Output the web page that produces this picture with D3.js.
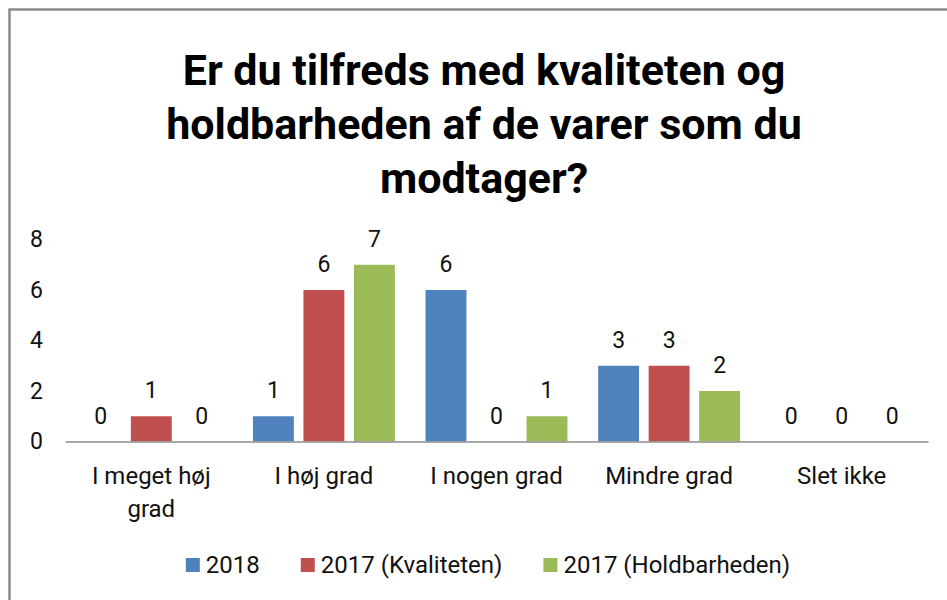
<!DOCTYPE html>
<html>
<head>
<meta charset="utf-8">
<script src="https://cdn.jsdelivr.net/npm/d3@7"></script>
<style>
  body { margin: 0; background: #fff; }
  text { font-family: Roboto, "Open Sans", sans-serif; fill: #111; }
</style>
</head>
<body>
<svg id="chart" width="947" height="600"></svg>
<script>
const categories = ['I meget høj grad', 'I høj grad', 'I nogen grad', 'Mindre grad', 'Slet ikke'];
const seriesNames = ['2018', '2017 (Kvaliteten)', '2017 (Holdbarheden)'];
const values2018 = [0, 1, 6, 3, 0];
const valuesKvalitet = [1, 6, 0, 3, 0];
const valuesHoldbar = [0, 7, 1, 2, 0];
const yTicks = [0, 2, 4, 6, 8];
const titleLines = ['Er du tilfreds med kvaliteten og', 'holdbarheden af de varer som du', 'modtager?'];

const colors = ['#4F81BD', '#C0504D', '#9BBB59'];
const seriesValues = [values2018, valuesKvalitet, valuesHoldbar];

const svg = d3.select('#chart');

// chart frame (runs off the right and bottom edge like the screenshot)
svg.append('rect')
  .attr('x', 9.5)
  .attr('y', 9.5)
  .attr('width', 980)
  .attr('height', 620)
  .attr('fill', 'none')
  .attr('stroke', '#8a8a8a')
  .attr('stroke-width', 2.5);

// title
svg.append('g')
  .selectAll('text')
  .data(titleLines)
  .join('text')
  .attr('x', 484)
  .attr('y', (d, i) => 85 + i * 54)
  .attr('text-anchor', 'middle')
  .style('font-size', '43px')
  .style('font-weight', 'bold')
  .style('fill', '#000')
  .text(d => d);

const x0 = d3.scaleBand()
  .domain(categories)
  .range([65, 928]);

const x1 = d3.scaleBand()
  .domain(seriesNames)
  .range([-75.75, 75.75])
  .paddingInner(0.19)
  .paddingOuter(0.095);

const y = d3.scaleLinear()
  .domain([0, 8])
  .range([441.5, 239.5]);

// y labels, no axis line
const yAxis = svg.append('g')
  .attr('transform', 'translate(43,0)')
  .call(d3.axisLeft(y).tickValues(yTicks).tickSize(0).tickPadding(0));
yAxis.select('.domain').remove();
yAxis.selectAll('text')
  .style('font-size', '23px')
  .style('font-family', 'Roboto, "Open Sans", sans-serif')
  .attr('fill', '#111');

// bars
const groups = svg.append('g')
  .selectAll('g')
  .data(categories)
  .join('g')
  .attr('transform', d => `translate(${x0(d) + x0.bandwidth() / 2},0)`);

const cells = groups.selectAll('g')
  .data((c, ci) => seriesNames.map((s, si) => ({ s, si, v: seriesValues[si][ci] })))
  .join('g');

cells.append('rect')
  .attr('x', d => x1(d.s))
  .attr('y', d => y(d.v))
  .attr('width', x1.bandwidth())
  .attr('height', d => y(0) - y(d.v))
  .attr('fill', d => colors[d.si]);

cells.append('text')
  .attr('x', d => x1(d.s) + x1.bandwidth() / 2)
  .attr('y', d => y(d.v) - 18)
  .attr('text-anchor', 'middle')
  .style('font-size', '23px')
  .text(d => d.v);

// x axis line
const xAxis = svg.append('g')
  .attr('transform', `translate(0,${y(0)})`)
  .call(d3.axisBottom(x0).tickSize(0).tickPadding(0).tickFormat(''));
xAxis.select('.domain')
  .attr('stroke', '#8c8c8c')
  .attr('stroke-width', 1.5);

// category labels, wrapped like excel does
const labels = svg.append('g')
  .selectAll('text')
  .data(categories)
  .join('text')
  .attr('x', d => x0(d) + x0.bandwidth() / 2)
  .attr('y', 484)
  .attr('text-anchor', 'middle')
  .style('font-size', '24px');

labels.each(function (d) {
  const el = d3.select(this);
  const words = d.split(' ');
  let line = [];
  let tspan = el.append('tspan').attr('x', el.attr('x')).attr('dy', 0);
  words.forEach(w => {
    line.push(w);
    tspan.text(line.join(' '));
    if (tspan.node().getComputedTextLength() > 155 && line.length > 1) {
      line.pop();
      tspan.text(line.join(' '));
      line = [w];
      tspan = el.append('tspan').attr('x', el.attr('x')).attr('dy', 33).text(w);
    }
  });
});

// legend
const legend = svg.append('g');
const items = legend.selectAll('g')
  .data(seriesNames)
  .join('g');
items.append('rect')
  .attr('width', 14)
  .attr('height', 14)
  .attr('y', -7)
  .attr('fill', (d, i) => colors[i]);
items.append('text')
  .attr('x', 20)
  .attr('dy', '0.35em')
  .style('font-size', '24px')
  .text(d => d);

let offset = 0;
items.each(function () {
  d3.select(this).attr('transform', `translate(${offset},0)`);
  offset += 20 + d3.select(this).select('text').node().getComputedTextLength() + 41;
});
const legendWidth = offset - 41;
legend.attr('transform', `translate(${488 - legendWidth / 2},565)`);
</script>
</body>
</html>
